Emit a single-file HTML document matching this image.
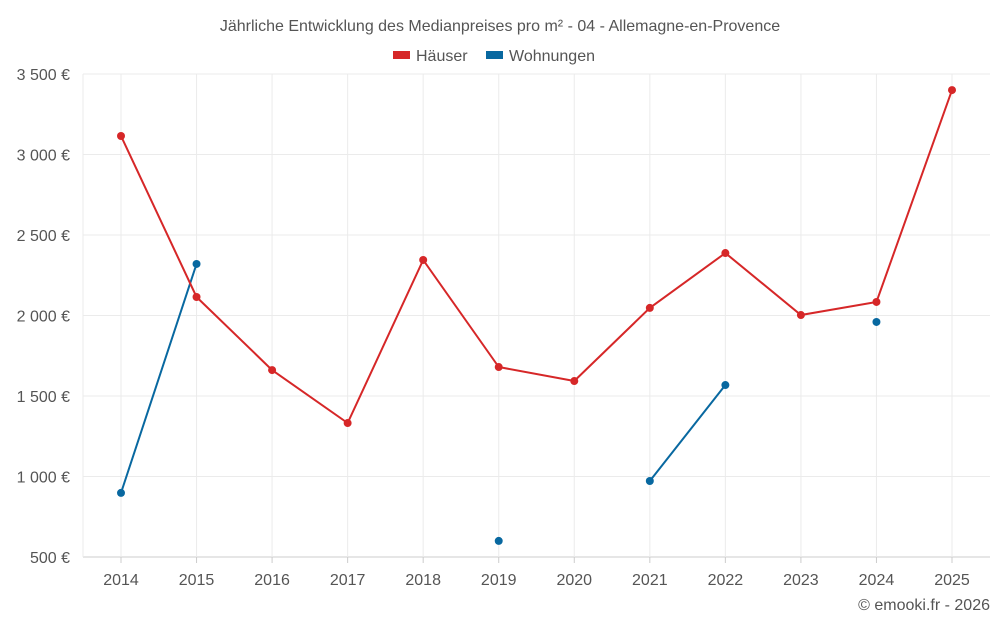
<!DOCTYPE html>
<html><head><meta charset="utf-8"><style>
body{margin:0;background:#fff;font-family:"Liberation Sans",sans-serif;}
svg text{font-family:"Liberation Sans",sans-serif;}
</style></head><body>
<svg id="chart" width="1000" height="625" viewBox="0 0 1000 625">
<text x="500" y="31" text-anchor="middle" font-size="16" fill="#555">Jährliche Entwicklung des Medianpreises pro m² - 04 - Allemagne-en-Provence</text>
<g>
<g><rect x="393" y="51" width="17" height="8" fill="#d62728"/><text x="416" y="61" font-size="16" fill="#555">Häuser</text></g>
<g><rect x="486" y="51" width="17" height="8" fill="#0868a0"/><text x="509" y="61" font-size="16" fill="#555">Wohnungen</text></g>
</g>
<g id="grid"></g>
<g id="axes"></g>
<g id="series"></g>
<text x="990" y="610" text-anchor="end" font-size="16" fill="#555">© emooki.fr - 2026</text>
</svg>
<script>
const categories=[2014,2015,2016,2017,2018,2019,2020,2021,2022,2023,2024,2025];
const haeuser=[3115,2115,1661,1332,2345,1680,1593,2047,2388,2003,2084,3400];
const wohnungen=[898,2320,null,null,null,600,null,972,1568,null,1960,null];
const yTicks=[500,1000,1500,2000,2500,3000,3500];
const yTickLabels=["500 €","1 000 €","1 500 €","2 000 €","2 500 €","3 000 €","3 500 €"];
const NS="http://www.w3.org/2000/svg";
const L=83,R=990,T=74,B=557,yMin=500,yMax=3500;
const x=i=>121+i*(952-121)/(categories.length-1);
const y=v=>B-(v-yMin)/(yMax-yMin)*(B-T);
function mk(tag,attrs,parent){const e=document.createElementNS(NS,tag);for(const k in attrs)e.setAttribute(k,attrs[k]);parent.appendChild(e);return e;}
const grid=document.getElementById('grid'),axes=document.getElementById('axes'),series=document.getElementById('series');
yTicks.forEach((t,i)=>{
 const l=mk('line',{x1:L,x2:R,y1:y(t),y2:y(t),stroke:i==0?'#ccc':'#ebebeb'},grid);
 
 
 const tx=mk('text',{x:70,y:y(t)+6,'text-anchor':'end','font-size':16,fill:'#555'},axes);
 tx.textContent=yTickLabels[i];
 
 
});
mk('line',{x1:L,x2:L,y1:T,y2:B,stroke:'#ebebeb'},grid);
categories.forEach((c,i)=>{
 const l=mk('line',{x1:x(i),x2:x(i),y1:T,y2:B,stroke:'#ebebeb'},grid);
 
 
 const tk=mk('line',{x1:x(i),x2:x(i),y1:B,y2:B+6,stroke:'#ccc'},axes);
 
 
 const tx=mk('text',{x:x(i),y:585,'text-anchor':'middle','font-size':16,fill:'#555'},axes);
 tx.textContent=c;
 
 
});
function draw(vals,color,name){
 let d='',pen=false;
 vals.forEach((v,i)=>{if(v==null){pen=false;return;}d+=(pen?'L':'M')+x(i)+' '+y(v)+' ';pen=true;});
 const p=mk('path',{d:d,fill:'none',stroke:color,'stroke-width':2},series);
 
 
 vals.forEach((v,i)=>{if(v==null)return;
  const c=mk('circle',{cx:x(i),cy:y(v),r:4,fill:color},series);
  
  
 });
}
draw(wohnungen,'#0868a0','wohnungen');
draw(haeuser,'#d62728','haeuser');
</script>
</body></html>
